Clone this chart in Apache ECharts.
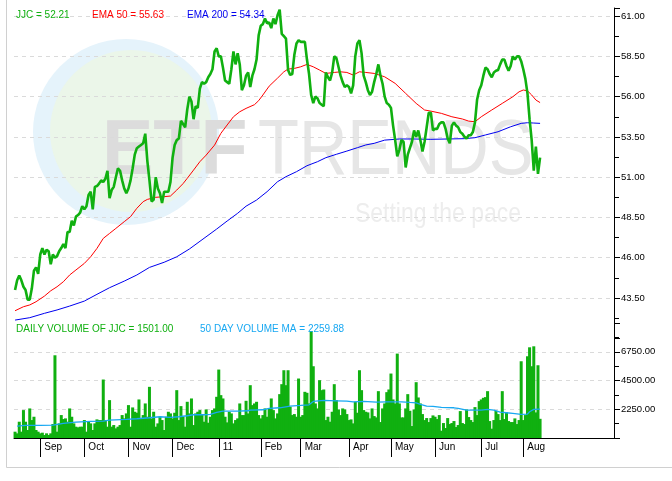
<!DOCTYPE html>
<html>
<head>
<meta charset="utf-8">
<script src="https://cdn.jsdelivr.net/npm/echarts@6/dist/echarts.min.js"></script>
<style>
html,body{margin:0;padding:0;background:#fff;}
#chart{width:672px;height:481px;}
</style>
</head>
<body>
<div id="chart"></div>
<script>
// ---- data (x = trading-day index, 0 = 16 Aug 2010) ----
const priceValues = [
 44.0, 44.6, 44.9, 44.6, 44.2, 44.0, 43.4, 43.4, 44.1, 45.2,
 45.4, 45.0, 46.2, 46.6, 46.2, 46.5, 46.4, 45.6, 46.2, 46.0,
 46.1, 46.4, 46.6, 46.85, 46.6, 47.6, 47.6, 48.3, 48.0, 48.55,
 48.65, 48.8, 49.2, 49.0, 49.2, 49.9, 50.1, 49.0, 50.4, 50.45,
 50.6, 50.8, 50.7, 50.9, 51.4, 49.7, 50.2, 50.4, 51.0, 51.55,
 51.4, 50.8, 50.3, 50.0, 50.3, 50.8, 51.55, 52.4, 52.8, 52.9,
 53.0, 53.1, 53.7, 52.0, 50.8, 49.5, 49.6, 51.0, 50.3, 50.0,
 49.4, 50.1, 50.1, 50.1, 50.7, 52.2, 53.0, 53.3, 53.4, 54.5,
 54.3, 54.1, 55.2, 56.0, 55.7, 54.6, 55.4, 55.3, 56.5, 56.9,
 56.8, 56.9, 57.2, 57.4, 57.7, 58.8, 59.0, 58.5, 58.5, 57.8,
 57.0, 56.9, 56.8, 57.7, 58.8, 58.0, 58.7, 58.0, 56.4, 56.7,
 57.3, 57.5, 56.6, 57.3, 57.7, 58.3, 59.8, 60.4, 60.5, 60.85,
 60.55, 60.6, 60.25, 60.85, 60.5, 61.05, 61.4, 59.9, 59.75, 59.6,
 57.65, 57.35, 57.4, 58.6, 59.3, 59.5, 59.4, 59.4, 59.4, 58.3,
 57.4, 56.1, 55.6, 56.0, 55.9, 55.6, 55.5, 55.4, 57.5, 57.2,
 57.0, 57.5, 58.5, 58.4, 57.85, 57.3, 56.9, 56.6, 56.7, 56.6,
 56.2, 56.7, 58.5, 59.3, 59.5, 58.7, 57.3, 56.9, 56.4, 56.1,
 56.3, 56.9, 57.4, 58.0, 57.3, 56.8, 56.0, 55.6, 55.5, 55.3,
 54.2, 53.3, 52.3, 52.7, 53.3, 53.2, 51.6, 52.4, 52.8, 53.2,
 53.9, 53.5, 53.9, 53.3, 52.6, 53.2, 54.1, 55.0, 55.0, 53.9,
 54.0, 54.0, 54.3, 54.4, 54.4, 54.0, 53.4, 53.1, 54.2, 54.4,
 54.2, 54.1, 53.8, 53.7, 53.5, 53.4, 53.6, 53.6, 53.8, 54.4,
 55.8, 56.4, 56.7, 57.3, 57.8, 57.7, 57.4, 57.2, 57.5, 57.6,
 57.65, 58.0, 58.3, 58.3, 57.9, 57.6, 57.9, 58.5, 58.3, 58.5,
 58.5, 58.2, 57.7, 57.1, 56.2, 54.6, 53.3, 51.4, 52.9, 51.2,
 52.21
];
const volumeValues = [
 494, 364, 1274, 494, 2184, 1274, 624, 2314, 1404, 1664,
 624, 494, 364, 416, 234, 364, 234, 364, 1092, 6474,
 494, 1144, 1794, 1482, 1534, 1274, 2314, 1664, 1144, 884,
 832, 884, 884, 1404, 494, 1274, 1144, 624, 1144, 1456,
 1404, 1404, 4576, 1404, 884, 2964, 884, 1014, 754, 884,
 1014, 1794, 1534, 1924, 2574, 884, 2392, 2054, 1976, 3016,
 1534, 1794, 2704, 1664, 4004, 1534, 2054, 884, 1144, 1664,
 1404, 624, 1664, 2054, 1924, 1534, 1976, 3744, 1404, 2496,
 1664, 884, 2834, 1924, 3094, 1014, 1924, 2054, 2184, 1872,
 1274, 2236, 1196, 1664, 2184, 2314, 3224, 5356, 3354, 3094,
 1664, 1222, 2054, 1924, 1144, 1404, 1534, 2704, 1794, 1794,
 2912, 1924, 4134, 2574, 2704, 2834, 1794, 1534, 1794, 2314,
 1664, 2314, 3094, 2184, 1534, 1924, 3432, 4212, 5304, 4134,
 5304, 2444, 1794, 1872, 1664, 4654, 1664, 1794, 3614, 3536,
 2704, 8372, 5616, 2704, 2314, 4524, 3744, 3796, 1404, 1664,
 1274, 2054, 4212, 2964, 2236, 1794, 2314, 2236, 1872, 1404,
 1456, 1144, 2834, 1976, 5304, 3744, 2184, 2054, 2002, 1534,
 2314, 1716, 1612, 3666, 1248, 2314, 2704, 3588, 3796, 5044,
 3016, 2704, 6604, 2704, 1612, 1612, 2314, 3432, 2132, 936,
 2236, 4368, 3172, 2704, 1872, 1404, 1560, 1248, 1560, 1768,
 1664, 1482, 1794, 572, 1170, 780, 1560, 1092, 1170, 1326,
 858, 1014, 2106, 1170, 1092, 2236, 1638, 1404, 1248, 2418,
 1794, 2886, 3016, 3146, 3198, 3666, 1326, 728, 1404, 2132,
 1872, 1404, 3666, 1482, 2002, 1326, 1248, 1248, 1534, 1092,
 1404, 6006, 1404, 1794, 6396, 7098, 5616, 7176, 2002, 5694,
 1501
];
const ema50Days = [0,4,7,10,14,17,20,23,26,29, 33,36,39,42,45,48,52,55,58,61,
 63,67,71,74,77,80,82,85,88,91, 95,98,101,104,107,110,114,116,118,121,
 125,128,130,133,136,139,142,145,148,152, 155,158,161,164,167,171,176,181,186,191,
 195,198,203,208,213,216,219,222,227,232, 237,240,242,244,246,248,250];
const ema50Values = [42.71,42.96,43.07,43.27,43.62,43.95,44.2,44.51,44.93,45.24,
 45.65,46.06,46.58,47.2,47.51,47.82,48.24,48.55,49.07,49.48,
 49.62,49.75,49.79,49.83,50.2,50.6,50.93,51.44,51.96,52.37,
 52.99,53.72,54.24,54.75,55.06,55.27,55.5,55.75,56.1,56.65,
 57.15,57.54,57.71,57.75,57.85,58.0,57.85,57.65,57.44,57.5,
 57.54,57.5,57.34,57.54,57.5,57.44,57.23,56.82,56.2,55.58,
 55.17,55.1,54.96,54.75,54.61,54.48,54.44,54.75,55.17,55.58,
 55.99,56.3,56.41,56.36,56.1,55.79,55.63];
const ema200Days = [0,7,14,20,26,33,39,45,52,58, 64,71,77,83,96,101,106,110,115,120,
 125,129,134,139,144,148,153,158,163,167, 171,176,183,190,198,206,214,219,224,230,
 236,241,244,247,250];
const ema200Values = [42.13,42.28,42.55,42.76,43.0,43.31,43.73,44.14,44.55,44.93,
 45.4,45.72,46.06,46.54,47.78,48.28,48.76,49.2,49.58,50.1,
 50.72,51.03,51.34,51.71,51.96,52.21,52.42,52.62,52.83,53.0,
 53.1,53.3,53.37,53.37,53.35,53.37,53.39,53.45,53.62,53.82,
 54.13,54.34,54.38,54.36,54.34];
const volMaDays = [1,5,12,18,23,29,36,42,45,53, 58,64,69,74,78,82,85,90,93,96,
 99,106,111,112,118,121,126,131,136,140, 142,147,153,158,161,166,172,177,184,188,
 191,193,196,199,203,209,211,215,222,225, 228,231,234,237,241,244,245,247,250];
const volMaValues = [936,988,988,1014,1144,1248,1300,1326,1404,1456,
 1508,1586,1664,1612,1664,1742,1820,1820,1846,2002,
 2106,2106,2132,2184,2210,2314,2366,2496,2548,2600,
 2860,2938,2912,2886,2834,2860,2808,2834,2834,2782,
 2756,2626,2496,2470,2392,2366,2314,2184,2184,2236,
 2184,2028,1976,1924,1846,1872,2054,2236,2259.88];
const monthTickDays = [12,33,54,75,97,117,136,159,179,200,222,242];
const monthTickLabels = ['Sep','Oct','Nov','Dec','11','Feb','Mar','Apr','May','Jun','Jul','Aug'];

// ---- styling ----
const GREEN = '#10B010', RED = '#FF0000', BLUE = '#0000F0', CYAN = '#18A8F2';
const FONT = '"Liberation Sans", Arial, sans-serif';
const GRID_LINE = {color: '#DADADA', type: [4, 4], width: 1};
const last = a => a[a.length - 1];

const chart = echarts.init(document.getElementById('chart'), null, {renderer: 'canvas'});

const pairs = (xs, ys) => xs.map((x, i) => [x, ys[i]]);

const yAxisCommon = {
  position: 'right',
  axisLine: {show: true, onZero: false, lineStyle: {color: '#000', width: 1}},
  axisTick: {show: true, length: 6, lineStyle: {color: '#000'}},
  minorTick: {show: true, splitNumber: 2, length: 5, lineStyle: {color: '#000'}},
  axisLabel: {showMinLabel: false, showMaxLabel: false, formatter: v => v.toFixed(2),
    margin: 7, fontSize: 9.5, color: '#000', fontFamily: FONT},
  splitLine: {show: true, showMinLine: false, showMaxLine: false, lineStyle: GRID_LINE}
};

const legendText = (x, y, text, color) => ({
  type: 'text', x: x, y: y, z: 100, silent: true,
  style: {text: text, fill: color, fontSize: 10, fontFamily: FONT, align: 'left', verticalAlign: 'middle'}
});

const option = {
  animation: false,
  backgroundColor: '#ffffff',
  grid: [
    {left: 14, right: 58, top: 8, height: 330.3},
    {left: 14, right: 58, top: 323, height: 115}
  ],
  xAxis: [
    {gridIndex: 0, type: 'value', min: -0.5, max: 285.2, show: false, splitLine: {show: false}},
    {gridIndex: 1, type: 'value', min: -0.5, max: 285.2,
      axisLine: {show: true, onZero: false, lineStyle: {color: '#000', width: 1}},
      axisTick: {show: true, customValues: monthTickDays, length: 19, lineStyle: {color: '#000'}},
      axisLabel: {show: true, customValues: monthTickDays,
        formatter: v => monthTickLabels[monthTickDays.indexOf(v)] || '',
        align: 'left', padding: [0, 0, 0, 4], margin: 4, fontSize: 10, color: '#000', fontFamily: FONT},
      splitLine: {show: false}, minorTick: {show: false}}
  ],
  yAxis: [
    Object.assign({gridIndex: 0, type: 'value', min: 41, max: 61.5, interval: 2.5}, yAxisCommon),
    Object.assign({gridIndex: 1, type: 'value', min: 0, max: 9000, interval: 2250}, yAxisCommon)
  ],
  graphic: {elements: [
    // frame
    {type: 'line', z: -20, silent: true, shape: {x1: 6.5, y1: 0, x2: 6.5, y2: 467.5}, style: {stroke: '#D0D0D0', lineWidth: 1}},
    {type: 'line', z: -20, silent: true, shape: {x1: 6.5, y1: 467.5, x2: 672, y2: 467.5}, style: {stroke: '#D0D0D0', lineWidth: 1}},
    // watermark
    {type: 'circle', z: -10, silent: true, shape: {cx: 126, cy: 132, r: 93}, style: {fill: '#E5F3FB'}},
    {type: 'circle', z: -9, silent: true, shape: {cx: 131, cy: 131, r: 81}, style: {fill: '#EBF6E9'}},
    {type: 'text', z: -8, silent: true, x: 102, y: 153,
      style: {text: 'ETF', fill: '#DCDCDC', fontSize: 77, fontWeight: 'bold', fontFamily: FONT, align: 'left', verticalAlign: 'middle'}},
    {type: 'text', z: -8, silent: true, x: 258, y: 153, scaleX: 0.87,
      style: {text: 'TRENDS', fill: '#E6E6E6', fontSize: 77, fontFamily: FONT, align: 'left', verticalAlign: 'middle'}},
    {type: 'text', z: -8, silent: true, x: 355, y: 214, scaleX: 0.82,
      style: {text: 'Setting the pace', fill: '#EDEDED', fontSize: 28, fontFamily: FONT, align: 'left', verticalAlign: 'middle'}},
    // legends
    legendText(16, 15, 'JJC = ' + last(priceValues).toFixed(2), GREEN),
    legendText(92, 15, 'EMA 50 = ' + last(ema50Values).toFixed(2), RED),
    legendText(187, 15, 'EMA 200 = ' + last(ema200Values).toFixed(2), BLUE),
    legendText(16, 329, 'DAILY VOLUME OF JJC = ' + last(volumeValues).toFixed(2), GREEN),
    legendText(200, 329, '50 DAY VOLUME MA = ' + last(volMaValues).toFixed(2), CYAN)
  ]},
  series: [
    {type: 'line', name: 'EMA 200', xAxisIndex: 0, yAxisIndex: 0, data: pairs(ema200Days, ema200Values),
      showSymbol: false, lineStyle: {color: BLUE, width: 1}, z: 3},
    {type: 'line', name: 'EMA 50', xAxisIndex: 0, yAxisIndex: 0, data: pairs(ema50Days, ema50Values),
      showSymbol: false, lineStyle: {color: RED, width: 1}, z: 3},
    {type: 'line', name: 'JJC', xAxisIndex: 0, yAxisIndex: 0, data: priceValues.map((v, i) => [i, v]),
      showSymbol: false, lineStyle: {color: GREEN, width: 2.6}, z: 4},
    {type: 'bar', name: 'Volume', xAxisIndex: 1, yAxisIndex: 1, data: volumeValues.map((v, i) => [i, v]),
      barWidth: 3, barMaxWidth: 3, itemStyle: {color: GREEN, borderWidth: 0}, z: 3},
    {type: 'line', name: 'Vol MA', xAxisIndex: 1, yAxisIndex: 1, data: pairs(volMaDays, volMaValues),
      showSymbol: false, lineStyle: {color: CYAN, width: 1.3}, z: 4}
  ]
};
chart.setOption(option);
</script>
</body>
</html>
